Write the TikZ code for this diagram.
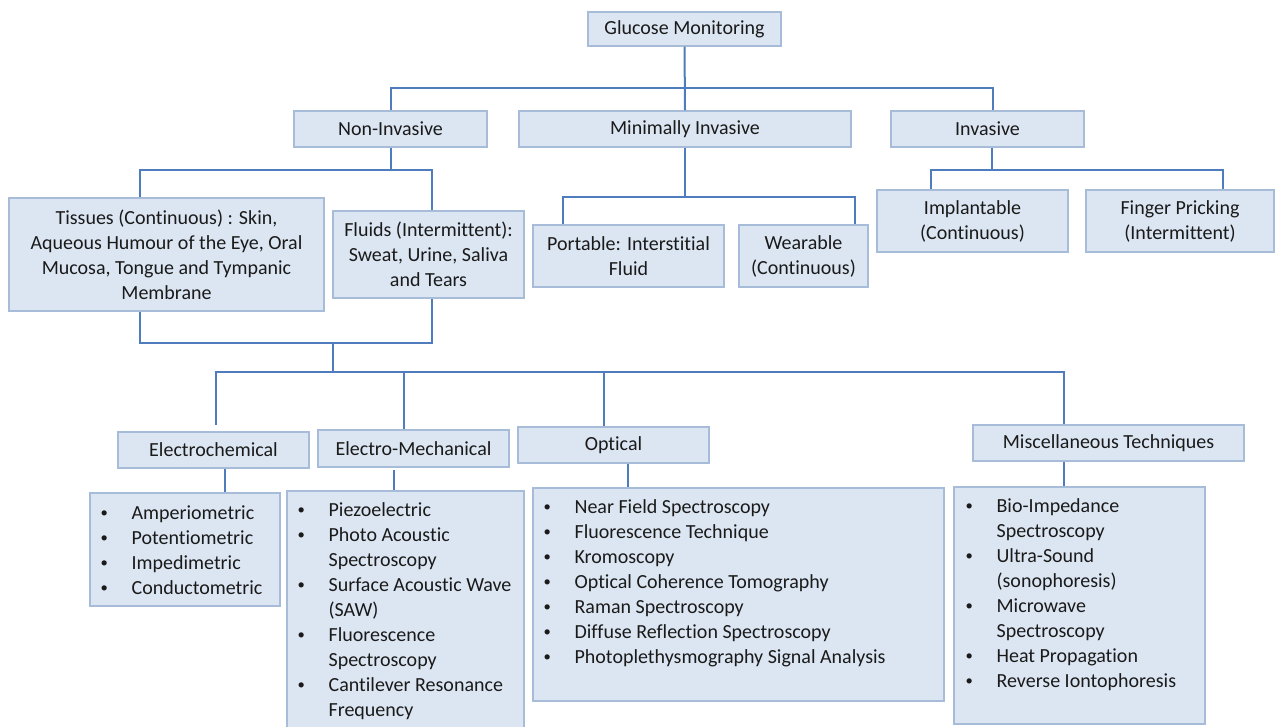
\documentclass[tikz,border=0pt]{standalone}
\usepackage{fontspec}
\setmainfont{Carlito}[Ligatures=NoCommon]
\usetikzlibrary{fit,calc}
\definecolor{boxfill}{HTML}{DCE6F2}
\definecolor{boxline}{HTML}{A6BCD9}
\definecolor{linkline}{HTML}{4F7CBD}
\definecolor{inktext}{HTML}{1A1A1A}
% small list bullet
\newcommand{\lb}{\raisebox{1.2pt}{\fontsize{11}{11}\selectfont\textbullet}}
\begin{document}
\begin{tikzpicture}[x=0.75pt,y=-0.75pt,
  boxbase/.style={draw=boxline, fill=boxfill, line width=1pt, inner sep=0pt},
  lbox/.style={boxbase},
  btext/.style={inner sep=0pt, align=center, text=inktext,
                font=\fontsize{15}{18.75}\selectfont},
  ltext/.style={anchor=north west, inner sep=0pt, text=inktext,
                font=\fontsize{15}{18.75}\selectfont},
  conn/.style={draw=linkline, line width=1.5pt}]
\useasboundingbox (0,0) rectangle (1276,726);

% ---- root and first level
\node[lbox, fit={(588,12) (781,46)}] (gm) {};
\node[btext] (gmt) at (gm.center) {Glucose Monitoring};
\node[lbox, fit={(294,111) (487,147)}] (ni) {};
\node[btext] (nit) at (ni.center) {Non-Invasive};
\node[lbox, fit={(519,111) (851,147)}] (mi) {};
\node[btext] (mit) at (mi.center) {Minimally Invasive};
\node[lbox, fit={(891,111) (1084,147)}] (inv) {};
\node[btext] (invt) at (inv.center) {Invasive};

% ---- second level
\node[lbox, fit={(9,198) (324,311)}] (tis) {};
\node[btext] (tist) at (tis.center) {Tissues (Continuous) : Skin,\\Aqueous Humour of the Eye, Oral\\Mucosa, Tongue and Tympanic\\Membrane};
\node[lbox, fit={(333,211) (524,298)}] (flu) {};
\node[btext] (flut) at (flu.center) {Fluids (Intermittent):\\Sweat, Urine, Saliva\\and Tears};
\node[lbox, fit={(533,225) (724,287)}] (por) {};
\node[btext] (port) at (por.center) {Portable: Interstitial\\Fluid};
\node[lbox, fit={(739,225) (868,287)}] (wea) {};
\node[btext] (weat) at (wea.center) {Wearable\\(Continuous)};
\node[lbox, fit={(877,190) (1068,252)}] (imp) {};
\node[btext] (impt) at (imp.center) {Implantable\\(Continuous)};
\node[lbox, fit={(1086,190) (1274,252)}] (fin) {};
\node[btext] (fint) at (fin.center) {Finger Pricking\\(Intermittent)};

% ---- technique families
\node[lbox, fit={(118,432) (309,468)}] (ec) {};
\node[btext] (ect) at (ec.center) {Electrochemical};
\node[lbox, fit={(318,430) (509,467)}] (em) {};
\node[btext] (emt) at (em.center) {Electro-Mechanical};
\node[lbox, fit={(518,427) (709,463)}] (op) {};
\node[btext] (opt) at (op.center) {Optical};
\node[lbox, fit={(973,425) (1244,461)}] (mt) {};
\node[btext] (mtt) at (mt.center) {Miscellaneous Techniques};

% ---- technique lists
\node[lbox, fit={(90,493) (280,606)}] (ecl) {};
\node[lbox, fit={(287,491) (524,732)}] (eml) {};
\node[lbox, fit={(533,488) (944,701)}] (opl) {};
\node[lbox, fit={(954,487) (1205,724)}] (mtl) {};

\node[ltext] (eclt) at ($(ecl.north west)+(11,9)$) {%
\begin{tabular}{@{}p{23.25pt}@{}l@{}}
\lb & Amperiometric\\
\lb & Potentiometric\\
\lb & Impedimetric\\
\lb & Conductometric
\end{tabular}};

\node[ltext] (emlt) at ($(eml.north west)+(11,8)$) {%
\begin{tabular}{@{}p{23.25pt}@{}l@{}}
\lb & Piezoelectric\\
\lb & Photo Acoustic\\
    & Spectroscopy\\
\lb & Surface Acoustic Wave\\
    & (SAW)\\
\lb & Fluorescence\\
    & Spectroscopy\\
\lb & Cantilever Resonance\\
    & Frequency
\end{tabular}};

\node[ltext] (oplt) at ($(opl.north west)+(11,8)$) {%
\begin{tabular}{@{}p{23.25pt}@{}l@{}}
\lb & Near Field Spectroscopy\\
\lb & Fluorescence Technique\\
\lb & Kromoscopy\\
\lb & Optical Coherence Tomography\\
\lb & Raman Spectroscopy\\
\lb & Diffuse Reflection Spectroscopy\\
\lb & Photoplethysmography Signal Analysis
\end{tabular}};

\node[ltext] (mtlt) at ($(mtl.north west)+(12,8)$) {%
\begin{tabular}{@{}p{23.25pt}@{}l@{}}
\lb & Bio-Impedance\\
    & Spectroscopy\\
\lb & Ultra-Sound\\
    & (sonophoresis)\\
\lb & Microwave\\
    & Spectroscopy\\
\lb & Heat Propagation\\
\lb & Reverse Iontophoresis
\end{tabular}};

% ---- connectors: root
\draw[conn] (gm.south) -- (mi.north);
\draw[conn] (ni.north) -- (ni.north |- 0,88) -- (993,88) -- (993,0 |- inv.north);

% ---- connectors: non-invasive
\draw[conn] (ni.south) -- (ni.south |- 0,170);
\draw[conn] (140,0 |- tis.north) -- (140,170) -- (432,170) -- (432,0 |- flu.north);

% ---- connectors: minimally invasive
\draw[conn] (mi.south) -- (mi.south |- 0,197);
\draw[conn] (563,0 |- por.north) -- (563,197) -- (855,197) -- (855,0 |- wea.north);

% ---- connectors: invasive
\draw[conn] (992,0 |- inv.south) -- (992,170);
\draw[conn] (931,0 |- imp.north) -- (931,170) -- (1223,170) -- (1223,0 |- fin.north);

% ---- connectors: tissues and fluids merge into the technique bus
\draw[conn] (140,0 |- tis.south) -- (140,343) -- (432,343) -- (432,0 |- flu.south);
\draw[conn] (333,343) -- (333,372);
\draw[conn] (216,425) -- (216,372) -- (1064,372) -- (1064,0 |- mt.north);
\draw[conn] (404,372) -- (404,0 |- em.north);
\draw[conn] (604,372) -- (604,0 |- op.north);

% ---- connectors: families to lists
\draw[conn] (225,0 |- ec.south) -- (225,0 |- ecl.north);
\draw[conn] (394,470) -- (394,0 |- eml.north);
\draw[conn] (628,0 |- op.south) -- (628,0 |- opl.north);
\draw[conn] (1064,0 |- mt.south) -- (1064,0 |- mtl.north);
\end{tikzpicture}
\end{document}
